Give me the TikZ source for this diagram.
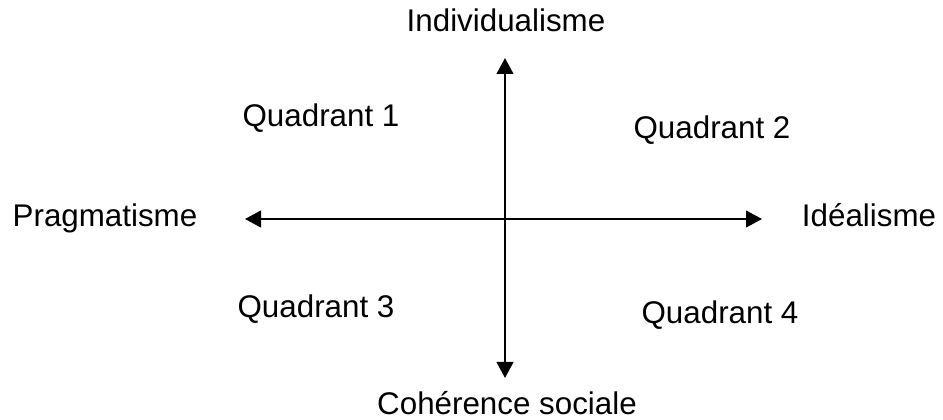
\documentclass[tikz,border=0pt]{standalone}
\usepackage{fontspec}
\setmainfont{Liberation Sans}
\usetikzlibrary{arrows.meta}

\begin{document}
\begin{tikzpicture}[
  x=0.75pt, y=-0.75pt,
  axislabel/.style={anchor=base, inner sep=0pt, font=\fontsize{23.5pt}{28pt}\selectfont},
  quad/.style={anchor=base, inner sep=0pt, font=\fontsize{23.5pt}{28pt}\selectfont},
  axis/.style={line width=1.6pt},
  >={Triangle[length=12pt, width=12.5pt]}
]
\useasboundingbox (0,0) rectangle (943,420);

% Axis end points
\coordinate (top)    at (505,58);
\coordinate (bottom) at (505,378);
\coordinate (left)   at (245,219);
\coordinate (right)  at (762,219);

% Axes
\draw[axis, <->] (bottom) -- (top);
\draw[axis, <->] (left) -- (right);

% Axis labels
\node[axislabel] (indiv) at (506,32)  {Individualisme};
\node[axislabel] (coher) at (507,414) {Cohérence sociale};
\node[axislabel] (pragm) at (105,227) {Pragmatisme};
\node[axislabel] (ideal) at (869,227) {Idéalisme};

% Quadrants
\node[quad] (q1) at (321,127) {Quadrant 1};
\node[quad] (q2) at (712,139) {Quadrant 2};
\node[quad] (q3) at (316,318) {Quadrant 3};
\node[quad] (q4) at (720,324) {Quadrant 4};
\end{tikzpicture}
\end{document}
